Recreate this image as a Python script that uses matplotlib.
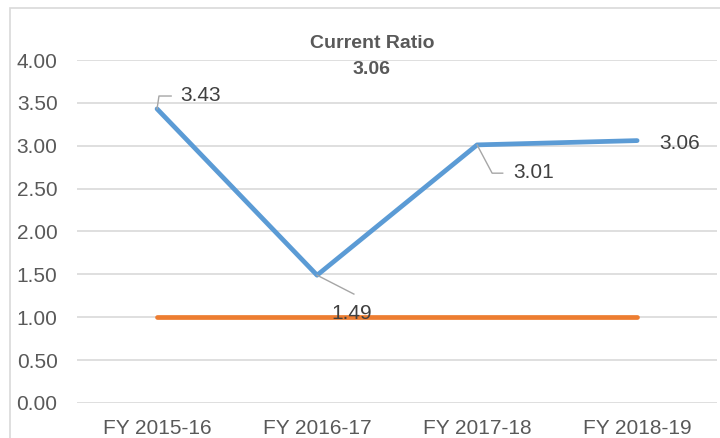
import numpy as np
import matplotlib.pyplot as plt
from matplotlib.patches import Rectangle

plt.rcParams['font.family'] = ['Liberation Sans', 'DejaVu Sans']

years = ['FY 2015-16', 'FY 2016-17', 'FY 2017-18', 'FY 2018-19']
current_ratio = [3.43, 1.49, 3.01, 3.06]
benchmark = [1.00, 1.00, 1.00, 1.00]
x = np.arange(len(years))

fig = plt.figure(figsize=(7.2, 4.38), dpi=100)
ax = fig.add_axes([0.107, 0.080, 0.889, 0.783])

fig.patches.append(Rectangle((10/720, -0.1), 1.2, 1 - 8/438 + 0.1, transform=fig.transFigure,
                             fill=False, edgecolor='#D9D9D9', linewidth=1.2))

ax.plot(x, current_ratio, color='#5B9BD5', linewidth=3.4, solid_capstyle='round', zorder=3)
ax.plot(x, benchmark, color='#ED7D31', linewidth=3.4, solid_capstyle='round', zorder=3)

ax.set_xlim(-0.5, 3.5)
ax.set_ylim(0, 4)
ax.set_yticks(np.arange(0, 4.01, 0.5))
ax.yaxis.set_major_formatter(plt.FuncFormatter(lambda v, p: '%.2f' % v))
ax.set_xticks(x)
ax.set_xticklabels(years)
ax.tick_params(length=0, labelsize=15, colors='#595959')
ax.tick_params(axis='x', pad=11.5)
ax.tick_params(axis='y', pad=14)
ax.grid(axis='y', color='#D9D9D9', linewidth=1.2)
ax.set_axisbelow(True)
for s in ax.spines.values():
    s.set_visible(False)

# data labels with leader lines
lab = dict(fontsize=15, color='#404040', va='center', textcoords='offset pixels')
lead = dict(color='#A6A6A6', lw=1, zorder=4)

ax.annotate('%.2f' % current_ratio[0], xy=(x[0], current_ratio[0]), xytext=(23, 13), ha='left', **lab)
ax.plot([x[0], x[0] + 0.012, x[0] + 0.088], [current_ratio[0], 3.58, 3.58], **lead)

ax.annotate('%.2f' % current_ratio[1], xy=(x[1], current_ratio[1]), xytext=(35, -38), ha='center', **lab)
ax.plot([x[1], x[1] + 0.23], [current_ratio[1], 1.27], **lead)

ax.annotate('%.2f' % current_ratio[2], xy=(x[2], current_ratio[2]), xytext=(36, -28), ha='left', **lab)
ax.plot([x[2], x[2] + 0.094, x[2] + 0.16], [current_ratio[2], 2.68, 2.68], **lead)

ax.annotate('%.2f' % current_ratio[3], xy=(x[3], current_ratio[3]), xytext=(43, -3), ha='center', **lab)

fig.text(372/720, 1 - 43/438, 'Current Ratio', ha='center', va='center', fontsize=14,
         fontweight='bold', color='#595959')
fig.text(372/720, 1 - 69/438, '3.06', ha='center', va='center', fontsize=14,
         fontweight='bold', color='#595959')

fig.savefig('out.png', dpi=100)
